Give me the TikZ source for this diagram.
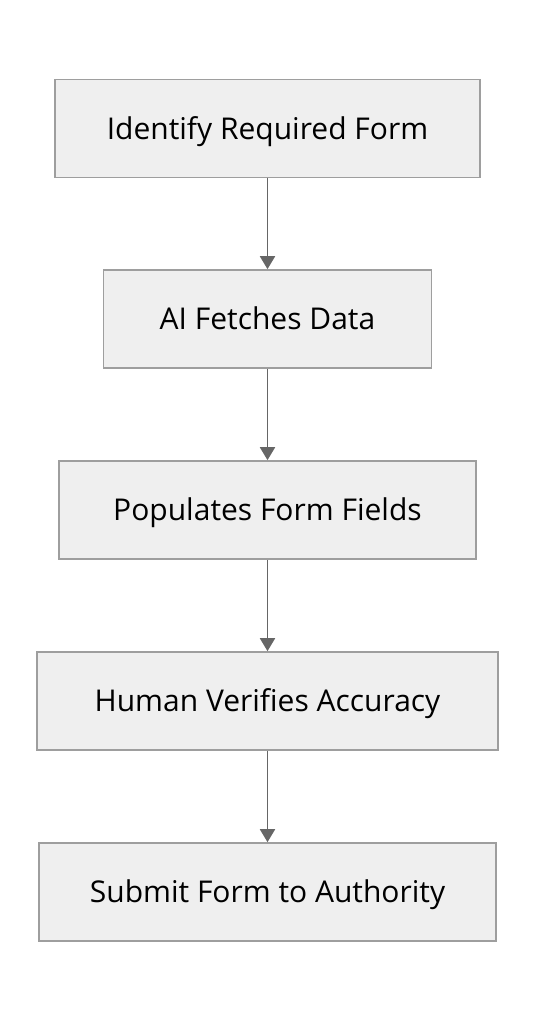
\documentclass[tikz,border=0pt]{standalone}
\usepackage{fontspec}
\setmainfont{Open Sans}
\usetikzlibrary{arrows.meta}
\definecolor{boxfill}{HTML}{EFEFEF}
\definecolor{boxline}{HTML}{9E9E9E}
\definecolor{arrowcol}{HTML}{666666}
\tikzset{
  stepbox/.style={draw=boxline, fill=boxfill, line width=1.6pt, minimum height=98pt, inner sep=0pt,
    text height=21pt, text depth=0pt,
    font=\fontsize{30}{36}\selectfont, text=black},
  flow/.style={draw=arrowcol, line width=1.8pt, -{Triangle[width=15pt,length=13pt]}}
}
\begin{document}
\begin{tikzpicture}[x=1pt,y=-1pt]
\useasboundingbox (0,0) rectangle (536,1020);
\node[stepbox, minimum width=425pt] (a) at (267.5,128.5) {Identify Required Form};
\node[stepbox, minimum width=328pt] (b) at (267.5,319) {AI Fetches Data};
\node[stepbox, minimum width=417pt] (c) at (267.5,510) {Populates Form Fields};
\node[stepbox, minimum width=461pt] (d) at (267.5,701) {Human Verifies Accuracy};
\node[stepbox, minimum width=457pt] (e) at (267.5,892) {Submit Form to Authority};
\draw[flow] (a.south) -- (b.north);
\draw[flow] (b.south) -- (c.north);
\draw[flow] (c.south) -- (d.north);
\draw[flow] (d.south) -- (e.north);
\end{tikzpicture}
\end{document}
